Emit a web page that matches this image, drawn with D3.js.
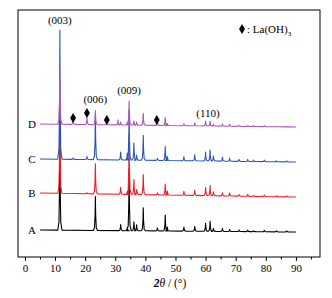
<!DOCTYPE html>
<html><head><meta charset="utf-8">
<script src="https://cdn.jsdelivr.net/npm/d3@7"></script>
<style>body{margin:0;background:#fff}svg{display:block;font-family:"Liberation Serif","Times New Roman",serif}</style>
</head><body><svg id="c" width="332" height="298"></svg>
<script>
// 2θ positions of diffraction peaks (degrees)
const peakPos = [11.6,16.0,20.6,23.4,27.2,30.9,31.8,34.0,34.6,36.2,37.1,39.3,44.0,46.6,47.3,52.8,56.4,60.0,61.5,62.6,65.6,68.0,71.1,74.0,76.0,79.5,83.5,87.0];
// peak heights above baseline (a.u.) for each sample
const heightsA = [100,0,0,34,0,0,6,3,62,9,6,23,3,16,4,4,5,8,10,3,3,2,1.5,1.5,1,1.5,1,1];
const heightsB = [85,0,1,30,0,0,7,3,60,15,5,20,2,11,4,4,5,8,10,4,3,3,1.5,2,1,1.5,1,1];
const heightsC = [129,1.5,3,45,0,0,8,7,50,17,5,25,2,14,4,4,6,9,11,5,4,3,2,2,1.5,1.5,1,1];
const heightsD = [54,4,7,14,3,5,3,3,24,4,3,12,3,8,2,2,3,5,5,2,2,2,1,1,1,1,0.5,0.5];
// baseline offsets at 2θ = 5° and 90°
const sampleNames = ["A","B","C","D"];
const baseStart = [27,64,98,133];
const baseEnd = [25,60,95,130];
const colors = ["#000000","#ee1c24","#2a55b6","#ac55b4"];
const xTicks = [0,10,20,30,40,50,60,70,80,90];
const minorTicks = [5,15,25,35,45,55,65,75,85,95];
const hklLabels = [{t:"(003)",x:11.6,y:233},{t:"(006)",x:23.4,y:154},{t:"(009)",x:34.6,y:163},{t:"(110)",x:60.8,y:140}];
const laPeaks = [16.0,20.6,27.2,43.8];
const laY = [139,144,137,137];

const svg = d3.select("#c");
const L=18,R=320,T=10,B=257;
const x = d3.scaleLinear().domain([-2.3,98]).range([L,R]);
const y = d3.scaleLinear().domain([0,247]).range([B,T]);

const allHeights=[heightsA,heightsB,heightsC,heightsD];
function buildSeries(i){
  const hs=allHeights[i];
  const base=t=>baseStart[i]+(baseEnd[i]-baseStart[i])*(t-5)/85;
  const pts=[[5,base(5)]];
  peakPos.forEach((p,k)=>{
    const h=hs[k]; if(!h) return;
    const b=base(p);
    pts.push([p-0.7,b],[p-0.3,b+h*0.08],[p-0.1,b+h*0.45],[p,b+h],[p+0.1,b+h*0.45],[p+0.3,b+h*0.08],[p+0.7,b]);
  });
  pts.push([90,base(90)]);
  return pts;
}
const line=d3.line().x(d=>x(d[0])).y(d=>y(d[1]));
[0,1,2,3].forEach(i=>{
  svg.append("path").attr("d",line(buildSeries(i))).attr("fill","none")
    .attr("stroke",colors[i]).attr("stroke-width",1.1).attr("stroke-linejoin","round");
  svg.append("text").attr("x",32).attr("y",y(baseStart[i])+4).attr("text-anchor","middle")
    .attr("font-size",11).text(sampleNames[i]);
});

// frame
svg.append("rect").attr("x",L).attr("y",T).attr("width",R-L).attr("height",B-T)
  .attr("fill","none").attr("stroke","#000").attr("stroke-width",1);
// axis
const ax=svg.append("g").attr("transform",`translate(0,${B})`)
  .call(d3.axisBottom(x).tickValues(xTicks).tickSize(4).tickSizeOuter(0).tickPadding(3).tickFormat(d3.format("d")));
ax.select(".domain").remove();
ax.selectAll("text").attr("font-size",11).attr("font-family","Liberation Serif").attr("fill","#000");
svg.append("g").attr("transform",`translate(0,${B})`)
  .call(d3.axisBottom(x).tickValues(minorTicks).tickSize(2.5).tickFormat("")).select(".domain").remove();
const tt=svg.append("text").attr("x",170).attr("y",287).attr("text-anchor","middle").attr("font-size",11.5);
tt.append("tspan").attr("font-style","italic").attr("font-weight","bold").text("2");
tt.append("tspan").attr("font-style","italic").text("θ");
tt.append("tspan").text(" / (°)");

hklLabels.forEach(d=>{
  svg.append("text").attr("x",x(d.x)).attr("y",y(d.y)).attr("text-anchor","middle").attr("font-size",11).text(d.t);
});
laPeaks.forEach((p,k)=>{
  svg.append("path").attr("d",d3.symbol(d3.symbolDiamond,30)()).attr("transform",`translate(${x(p)},${y(laY[k])})`).attr("fill","#000");
});
svg.append("path").attr("d",d3.symbol(d3.symbolDiamond,30)()).attr("transform","translate(242,29)").attr("fill","#000");
const lg=svg.append("text").attr("x",247).attr("y",33).attr("font-size",11);
lg.append("tspan").text(": La(OH)");
lg.append("tspan").attr("font-size",7).attr("dy",3).text("3");
</script></body></html>
